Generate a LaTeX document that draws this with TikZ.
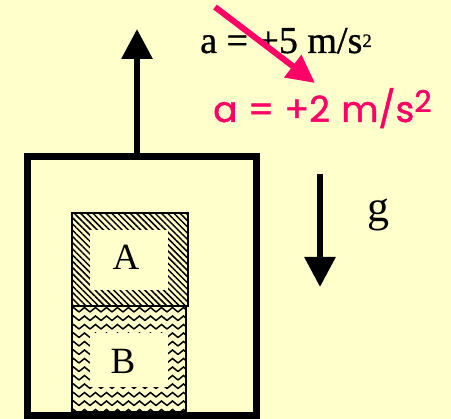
\documentclass[tikz,border=0pt]{standalone}
\usepackage{fontspec}
\setmainfont{Liberation Serif}
\newfontfamily\pinkfont{Poppins}[FakeBold=1.2]
\newfontfamily\heavyserif{Liberation Serif}[FakeBold=0.8]
\usetikzlibrary{arrows.meta,patterns.meta}
\definecolor{bg}{HTML}{FFFFCC}
\definecolor{pinkc}{RGB}{255,0,102}
\tikzset{
  wall/.style={line width=7pt, draw=black},
  blockedge/.style={line width=1.4pt, draw=black},
  zz/.style={line width=1.5pt, line join=miter},
  bigarrow/.style={line width=6pt, -{Triangle[length=30pt,width=30pt]}},
  pinkarrow/.style={line width=6pt, draw=pinkc, -{Triangle[length=28pt,width=27pt]}},
  lbl/.style={font=\fontsize{37}{37}\selectfont, inner sep=0pt},
}
\begin{document}
\begin{tikzpicture}[x=1pt,y=-1pt]
\fill[bg] (0,0) rectangle (451,419);
\useasboundingbox (0,0) rectangle (451,419);

% block A: diagonal hatching frame
\fill[pattern={Lines[angle=-45,distance=4.4pt,line width=1.5pt]}] (72,213) rectangle (188,306);
\fill[bg] (90,230) rectangle (168,290);
\draw[blockedge] (72,213) rectangle (188,306);

% block B: zigzag frame
\begin{scope}
  \clip (72,306) rectangle (186,412);
  \foreach \yy in {312,320.5,...,420} {
    \foreach \xx in {68,79,...,195} {
      \draw[zz] (\xx,\yy) -- ++(5.5,-4.5) -- ++(5.5,4.5);
    }
  }
\end{scope}
\fill[bg] (90,333) rectangle (168,387);
\draw[blockedge] (72,306) rectangle (186,412);

\node[lbl] (A) at (126,257) {A};
\node[lbl] (B) at (123,361) {B};

% elevator box
\draw[wall] (27,156.5) rectangle (256,415.5);
\coordinate (boxtop) at (137,153);
\coordinate (uptip) at (137,29);
\draw[bigarrow] (boxtop) -- (uptip);

% gravity arrow
\coordinate (gtop) at (320,174);
\coordinate (gtip) at (320,287);
\draw[bigarrow] (gtop) -- (gtip);
\node[anchor=base, font=\fontsize{44}{44}\selectfont, inner sep=0pt] (g) at (378,222) {g};

% texts
\node[anchor=base west, inner sep=0pt, font=\heavyserif\fontsize{38}{38}\selectfont] (a5) at (200,53)
  {a = +5 m/s\raisebox{6pt}{\fontsize{19}{19}\selectfont 2}};
\node[anchor=base west, inner sep=0pt, text=pinkc, font=\pinkfont\fontsize{36}{36}\selectfont] (a2) at (213,122)
  {a\hspace{10.5pt}=\hspace{10.5pt}+2\hspace{11.5pt}m/s\raisebox{10pt}{\fontsize{30}{30}\selectfont 2}};

% pink arrow
\coordinate (ps) at (215,7);
\coordinate (pt) at (315,83);
\draw[pinkarrow] (ps) -- (pt);
\end{tikzpicture}
\end{document}
